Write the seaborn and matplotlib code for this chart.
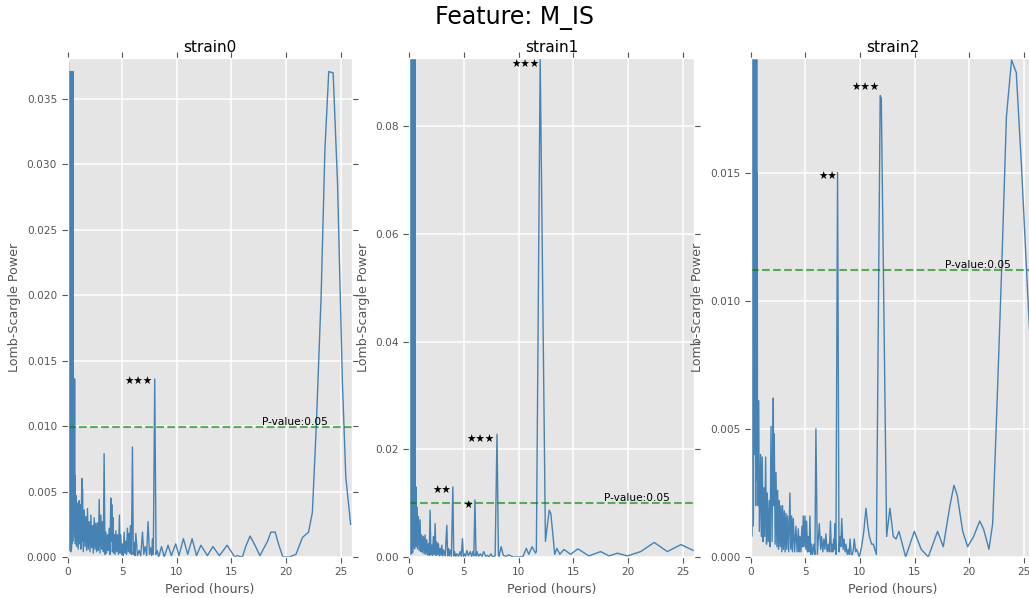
import matplotlib
matplotlib.use("Agg")
import matplotlib.pyplot as plt
from matplotlib.ticker import MultipleLocator
import seaborn as sns
import pandas as pd

# ---- periodogram values (period in hours, Lomb-Scargle power) ----
strain0_period = [
    0.00, 0.02, 0.10, 0.12, 0.14, 0.18, 0.20, 0.24, 0.26, 0.30, 0.32, 0.36, 0.38, 0.42,
    0.44, 0.48, 0.50, 0.53, 0.55, 0.58, 0.60, 0.63, 0.65, 0.67, 0.69, 0.72, 0.77, 0.83,
    0.92, 0.98, 1.07, 1.11, 1.16, 1.22, 1.31, 1.34, 1.37, 1.44, 1.53, 1.60, 1.68, 1.75,
    1.83, 1.90, 1.98, 2.06, 2.14, 2.21, 2.29, 2.36, 2.44, 2.51, 2.59, 2.66, 2.74, 2.82,
    2.90, 2.97, 3.05, 3.12, 3.20, 3.28, 3.35, 3.43, 3.51, 3.58, 3.66, 3.73, 3.81, 3.89,
    3.96, 4.00, 4.05, 4.11, 4.17, 4.22, 4.27, 4.35, 4.42, 4.50, 4.57, 4.66, 4.75, 4.81,
    4.87, 4.95, 5.03, 5.10, 5.18, 5.26, 5.33, 5.40, 5.48, 5.56, 5.63, 5.69, 5.75, 5.85,
    5.94, 6.02, 6.10, 6.18, 6.25, 6.40, 6.55, 6.70, 6.86, 6.98, 7.10, 7.24, 7.37, 7.50,
    7.60, 7.70, 7.77, 7.85, 7.98, 8.10, 8.20, 8.35, 8.60, 8.85, 9.20, 9.50, 9.90, 10.20,
    10.60, 11.00, 11.40, 11.80, 12.20, 12.80, 13.30, 13.90, 14.60, 15.30, 15.50, 16.00,
    16.30, 16.70, 17.15, 17.60, 18.30, 18.60, 19.00, 19.30, 19.70, 20.30, 20.90, 21.50,
    22.05, 22.40, 22.76, 23.20, 23.55, 23.90, 24.30, 24.70, 25.15, 25.46, 25.90,
]
strain0_power = [
    0.0000, 0.0378, 0.0378, 0.0010, 0.0371, 0.0005, 0.0371, 0.0008, 0.0371, 0.0004, 0.0371, 0.0006, 0.0371, 0.0010,
    0.0371, 0.0012, 0.0371, 0.0020, 0.0136, 0.0030, 0.0136, 0.0025, 0.0136, 0.0015, 0.0062, 0.0010, 0.0047, 0.0008,
    0.0041, 0.0006, 0.0043, 0.0010, 0.0040, 0.0006, 0.0060, 0.0012, 0.0052, 0.0004, 0.0036, 0.0008, 0.0031, 0.0005,
    0.0037, 0.0006, 0.0027, 0.0004, 0.0032, 0.0007, 0.0024, 0.0003, 0.0030, 0.0006, 0.0026, 0.0004, 0.0026, 0.0005,
    0.0044, 0.0003, 0.0032, 0.0006, 0.0027, 0.0004, 0.0079, 0.0002, 0.0019, 0.0003, 0.0017, 0.0005, 0.0022, 0.0002,
    0.0045, 0.0012, 0.0040, 0.0004, 0.0030, 0.0003, 0.0017, 0.0002, 0.0020, 0.0004, 0.0017, 0.0002, 0.0032, 0.0003,
    0.0017, 0.0002, 0.0010, 0.0001, 0.0019, 0.0003, 0.0012, 0.0002, 0.0022, 0.0004, 0.0018, 0.0003, 0.0024, 0.0002,
    0.0084, 0.0002, 0.0011, 0.0001, 0.0018, 0.0001, 0.0005, 0.0001, 0.0019, 0.0002, 0.0008, 0.0001, 0.0027, 0.0002,
    0.0007, 0.0001, 0.0014, 0.0002, 0.0136, 0.0002, 0.0005, 0.0000, 0.0008, 0.0000, 0.0009, 0.0001, 0.0010, 0.0001,
    0.0014, 0.0002, 0.0014, 0.0001, 0.0009, 0.0001, 0.0008, 0.0001, 0.0009, 0.0000, 0.0001, 0.0000,
    0.0008, 0.0016, 0.0009, 0.0001, 0.0012, 0.0019, 0.0019, 0.0010, 0.0000, 0.0000, 0.0002, 0.0015,
    0.0019, 0.0034, 0.0100, 0.0199, 0.0312, 0.0371, 0.0370, 0.0286, 0.0133, 0.0061, 0.0025,
]

strain1_period = [
    0.00, 0.02, 0.05, 0.07, 0.10, 0.12, 0.15, 0.17, 0.20, 0.22, 0.25, 0.27, 0.30, 0.32,
    0.35, 0.38, 0.40, 0.43, 0.45, 0.48, 0.50, 0.53, 0.55, 0.58, 0.61, 0.64, 0.68, 0.74,
    0.83, 0.90, 0.98, 1.05, 1.13, 1.20, 1.29, 1.36, 1.44, 1.51, 1.59, 1.67, 1.75, 1.82,
    1.90, 1.97, 2.05, 2.12, 2.20, 2.28, 2.36, 2.43, 2.51, 2.58, 2.66, 2.74, 2.82, 2.90,
    2.97, 3.05, 3.12, 3.28, 3.43, 3.50, 3.58, 3.66, 3.73, 3.85, 3.98, 4.06, 4.13, 4.25,
    4.35, 4.50, 4.65, 4.75, 4.86, 4.94, 5.02, 5.14, 5.26, 5.40, 5.57, 5.70, 5.81, 5.90,
    6.00, 6.10, 6.18, 6.33, 6.49, 6.65, 6.80, 7.00, 7.16, 7.30, 7.47, 7.60, 7.71, 7.85,
    8.02, 8.15, 8.20, 8.40, 8.60, 8.85, 9.10, 9.50, 10.00, 10.40, 10.70, 10.93, 11.23, 11.54,
    11.62, 11.97, 12.45, 12.80, 12.95, 13.30, 13.50, 13.77, 14.14, 14.75, 15.42, 16.43,
    17.50, 18.27, 19.03, 19.95, 21.17, 22.40, 23.60, 24.85, 26.00,
]
strain1_power = [
    0.0000, 0.0926, 0.0010, 0.0926, 0.0005, 0.0926, 0.0008, 0.0926, 0.0006, 0.0926, 0.0010, 0.0926, 0.0008, 0.0926,
    0.0130, 0.0020, 0.0130, 0.0030, 0.0926, 0.0015, 0.0926, 0.0020, 0.0130, 0.0030, 0.0130, 0.0020, 0.0093, 0.0015,
    0.0075, 0.0012, 0.0069, 0.0010, 0.0041, 0.0008, 0.0038, 0.0006, 0.0041, 0.0005, 0.0032, 0.0004, 0.0025, 0.0003,
    0.0087, 0.0004, 0.0022, 0.0003, 0.0038, 0.0005, 0.0062, 0.0003, 0.0028, 0.0004, 0.0025, 0.0002, 0.0016, 0.0003,
    0.0022, 0.0002, 0.0013, 0.0002, 0.0059, 0.0002, 0.0016, 0.0002, 0.0013, 0.0001, 0.0130, 0.0002, 0.0010, 0.0001,
    0.0006, 0.0001, 0.0010, 0.0001, 0.0034, 0.0001, 0.0006, 0.0001, 0.0012, 0.0002, 0.0010, 0.0001, 0.0010, 0.0002,
    0.0106, 0.0002, 0.0010, 0.0001, 0.0006, 0.0001, 0.0010, 0.0001, 0.0003, 0.0000, 0.0006, 0.0000, 0.0001, 0.0002,
    0.0228, 0.0004, 0.0001, 0.0019, 0.0003, 0.0001, 0.0004, 0.0000, 0.0000, 0.0001, 0.0016, 0.0005, 0.0019, 0.0007,
    0.0010, 0.0926, 0.0029, 0.0087, 0.0080, 0.0005, 0.0016, 0.0005, 0.0014, 0.0005, 0.0015, 0.0002,
    0.0010, 0.0002, 0.0007, 0.0002, 0.0010, 0.0027, 0.0010, 0.0023, 0.0012,
]

strain2_period = [
    0.00, 0.02, 0.05, 0.07, 0.10, 0.12, 0.15, 0.17, 0.20, 0.22, 0.25, 0.28, 0.31, 0.34,
    0.37, 0.40, 0.43, 0.46, 0.49, 0.52, 0.55, 0.58, 0.60, 0.63, 0.66, 0.69, 0.72, 0.80,
    0.91, 0.98, 1.06, 1.13, 1.21, 1.29, 1.37, 1.45, 1.52, 1.61, 1.70, 1.78, 1.86, 1.96,
    2.07, 2.11, 2.16, 2.24, 2.32, 2.40, 2.47, 2.55, 2.62, 2.70, 2.77, 2.85, 2.92, 3.00,
    3.08, 3.15, 3.23, 3.30, 3.38, 3.48, 3.59, 3.67, 3.75, 3.82, 3.90, 4.02, 4.14, 4.25,
    4.36, 4.44, 4.51, 4.60, 4.69, 4.75, 4.81, 4.89, 4.97, 5.05, 5.12, 5.20, 5.27, 5.35,
    5.42, 5.50, 5.58, 5.68, 5.79, 5.88, 5.97, 6.10, 6.28, 6.40, 6.49, 6.60, 6.70, 6.80,
    6.88, 7.00, 7.10, 7.20, 7.30, 7.38, 7.45, 7.52, 7.60, 7.65, 7.70, 7.80, 7.95, 8.08,
    8.17, 8.25, 8.33, 8.45, 8.54, 8.63, 8.72, 8.83, 8.94, 9.02, 9.09, 9.20, 9.30, 9.40,
    9.48, 9.60, 9.70, 9.94, 10.15, 10.35, 10.55, 10.72, 10.86, 11.07, 11.22, 11.50, 11.85, 11.95,
    12.44, 12.74, 13.05, 13.30, 13.57, 14.18, 14.97, 15.60, 16.25, 17.10, 17.62, 18.23, 18.60, 18.90,
    19.40, 19.85, 20.40, 20.95, 21.30, 21.80, 22.14, 22.50, 22.96, 23.40, 23.87, 24.30, 24.78, 25.40,
    26.00,
]
strain2_power = [
    0.0000, 0.0194, 0.0010, 0.0194, 0.0008, 0.0194, 0.0010, 0.0194, 0.0012, 0.0194, 0.0015, 0.0194, 0.0060, 0.0100,
    0.0040, 0.0110, 0.0194, 0.0020, 0.0194, 0.0030, 0.0194, 0.0030, 0.0150, 0.0030, 0.0061, 0.0020, 0.0061, 0.0010,
    0.0040, 0.0008, 0.0039, 0.0006, 0.0027, 0.0008, 0.0039, 0.0005, 0.0025, 0.0006, 0.0022, 0.0004, 0.0051, 0.0006,
    0.0062, 0.0020, 0.0048, 0.0005, 0.0033, 0.0004, 0.0026, 0.0003, 0.0022, 0.0004, 0.0020, 0.0002, 0.0020, 0.0003,
    0.0018, 0.0002, 0.0017, 0.0003, 0.0016, 0.0002, 0.0025, 0.0003, 0.0016, 0.0002, 0.0015, 0.0002, 0.0012, 0.0002,
    0.0011, 0.0002, 0.0008, 0.0002, 0.0012, 0.0004, 0.0016, 0.0004, 0.0016, 0.0003, 0.0014, 0.0002, 0.0008, 0.0002,
    0.0016, 0.0001, 0.0005, 0.0001, 0.0005, 0.0001, 0.0050, 0.0001, 0.0013, 0.0003, 0.0008, 0.0002, 0.0007, 0.0003,
    0.0009, 0.0002, 0.0005, 0.0002, 0.0014, 0.0002, 0.0005, 0.0002, 0.0007, 0.0003, 0.0013, 0.0001, 0.0150, 0.0002,
    0.0008, 0.0004, 0.0015, 0.0003, 0.0007, 0.0002, 0.0005, 0.0001, 0.0003, 0.0001, 0.0007, 0.0001, 0.0001, 0.0003,
    0.0007, 0.0002, 0.0003, 0.0000, 0.0004, 0.0010, 0.0019, 0.0012, 0.0008, 0.0005, 0.0005, 0.0001, 0.0180, 0.0179,
    0.0008, 0.0019, 0.0008, 0.0007, 0.0010, 0.0000, 0.0010, 0.0003, 0.0000, 0.0010, 0.0004, 0.0020, 0.0028, 0.0024,
    0.0010, 0.0004, 0.0008, 0.0014, 0.0011, 0.0003, 0.0013, 0.0055, 0.0112, 0.0172, 0.0194, 0.0189, 0.0152, 0.0098,
    0.0050,
]

strain_names = ["strain0", "strain1", "strain2"]
periods = [strain0_period, strain1_period, strain2_period]
powers = [strain0_power, strain1_power, strain2_power]

# significance threshold (p = 0.05) for each strain
thresholds = [0.0099, 0.0100, 0.0112]

# significance stars: text, anchor period (right edge), anchor power
star_labels = [
    ["★★★"],
    ["★★", "★", "★★★", "★★★"],
    ["★★", "★★★"],
]
star_period = [
    [7.80],
    [3.82, 5.84, 7.82, 11.86],
    [7.86, 11.76],
]
star_power = [
    [0.01348],
    [0.01243, 0.00965, 0.02184, 0.09160],
    [0.01486, 0.01833],
]

y_limits = [0.0381, 0.0926, 0.01945]
y_steps = [0.005, 0.02, 0.005]

plt.style.use("ggplot")
plt.rcParams["font.family"] = ["DejaVu Sans"]

fig = plt.figure(figsize=(10.29, 5.98), dpi=100)
lefts = [0.0656, 0.3978, 0.7295]
width, bottom, height = 0.2762, 0.0686, 0.8336

for i, name in enumerate(strain_names):
    ax = fig.add_axes([lefts[i], bottom, width, height])
    df = pd.DataFrame({"period": periods[i], "power": powers[i]})
    sns.lineplot(data=df, x="period", y="power", ax=ax, color="#4682B4",
                 linewidth=1.0, estimator=None, sort=False)
    ax.axhline(thresholds[i], color="green", alpha=0.6, linestyle="--", linewidth=1.5)
    ax.text(17.8, thresholds[i], "P-value:0.05", fontsize=7.6, color="black",
            ha="left", va="bottom")
    for lab, sx, sy in zip(star_labels[i], star_period[i], star_power[i]):
        ax.text(sx, sy, lab, fontsize=7.6, color="black", ha="right", va="center_baseline")

    ax.set_xlim(0, 26)
    ax.set_ylim(0, y_limits[i])
    ax.xaxis.set_major_locator(MultipleLocator(5))
    ax.yaxis.set_major_locator(MultipleLocator(y_steps[i]))
    ax.set_title(name, fontsize=11, color="black", pad=5)
    ax.set_xlabel("Period (hours)", fontsize=9.1, color="#555555")
    ax.set_ylabel("Lomb-Scargle Power", fontsize=9.1, color="#555555")
    ax.tick_params(axis="both", which="major", labelsize=7.6, labelcolor="#555555",
                   color="#555555", direction="out", length=4, width=0.8,
                   top=True, right=True)
    ax.grid(True, color="white", linewidth=1.1)

fig.suptitle("Feature: M_IS", fontsize=17, y=0.970, va="center")
fig.savefig("out.png", dpi=100)
